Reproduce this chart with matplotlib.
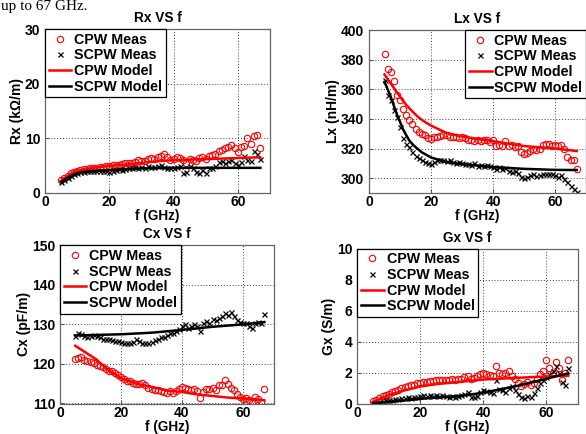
import matplotlib
matplotlib.use('Agg')
import matplotlib.pyplot as plt

plt.rcParams['font.family'] = ['Liberation Sans', 'DejaVu Sans']
plt.rcParams['font.weight'] = 'bold'
plt.rcParams['axes.labelweight'] = 'bold'
plt.rcParams['axes.titleweight'] = 'bold'

freq = [5, 6, 7, 8, 9, 10, 11, 12, 13, 14, 15, 16, 17, 18, 19, 20, 21, 22, 23, 24,
        25, 26, 27, 28, 29, 30, 31, 32, 33, 34, 35, 36, 37, 38, 39, 40, 41, 42, 43, 44,
        45, 46, 47, 48, 49, 50, 51, 52, 53, 54, 55, 56, 57, 58, 59, 60, 61, 62, 63, 64,
        65, 66, 67]

# ---- Rx (kOhm/m)
rx_cpw = [2.3, 2.8, 3.2, 3.6, 3.9, 4.1, 4.2, 4.3, 4.4, 4.5, 4.6, 4.6, 4.7, 4.8, 4.9, 5.0, 5.1, 5.1, 5.2, 5.3,
          5.4, 5.4, 5.5, 5.7, 6.0, 5.9, 5.8, 6.2, 6.4, 6.3, 6.6, 6.8, 7.1, 6.5, 6.0, 6.3, 6.5, 6.4, 6.0, 5.5,
          6.3, 6.1, 5.8, 6.4, 6.5, 6.3, 6.8, 7.0, 7.2, 7.6, 7.9, 8.2, 8.5, 8.8, 8.3, 7.5, 8.4, 8.6, 10.0, 9.0,
          10.4, 10.7, 8.2]
rx_scpw = [2.0, 2.4, 2.8, 3.1, 3.4, 3.6, 3.8, 3.9, 4.0, 4.0, 4.0, 4.1, 4.0, 4.1, 4.0, 3.9, 4.1, 4.2, 4.3, 4.2,
           4.4, 4.5, 4.6, 4.7, 4.6, 4.7, 4.5, 4.9, 4.8, 4.7, 5.0, 5.2, 4.8, 4.6, 4.6, 4.5, 4.8, 5.0, 3.6, 3.8,
           4.9, 4.5, 3.9, 3.6, 4.2, 3.7, 4.5, 4.6, 4.9, 5.6, 5.8, 5.5, 5.9, 6.0, 5.5, 5.1, 5.6, 6.8, 6.1, 5.8,
           7.7, 7.2, 6.3]
rx_mf_cpw = [5, 6, 7, 8, 9, 10, 12, 15, 20, 25, 30, 35, 40, 45, 50, 55, 60, 65, 67]
rx_mod_cpw = [2.2, 2.7, 3.1, 3.5, 3.8, 4.0, 4.3, 4.6, 4.95, 5.2, 5.5, 5.8, 6.0, 6.1, 6.2, 6.3, 6.4, 6.5, 6.5]
rx_mf_scpw = [5, 6, 7, 8, 9, 10, 12, 15, 20, 25, 30, 35, 40, 50, 60, 67]
rx_mod_scpw = [2.0, 2.4, 2.8, 3.1, 3.4, 3.6, 3.85, 4.0, 4.2, 4.35, 4.5, 4.55, 4.6, 4.6, 4.6, 4.6]

# ---- Lx (nH/m)
lx_cpw = [384, 373.6, 371.5, 365.5, 356.4, 352.6, 346.5, 342.4, 339, 336.3, 333.4, 331.2, 330, 329, 327.3, 326.6, 327.5, 328, 328.5, 329,
          329, 328, 327.5, 328, 327, 328, 327, 326, 325.5, 325, 325.5, 325, 326, 325.5, 324.5, 325.5, 322, 322.5, 321.5, 325,
          322, 322.5, 321, 321.5, 318, 316.5, 317, 318.5, 319.5, 319, 320, 322.5, 323, 323, 322, 322.5, 321.5, 322.5, 320, 314,
          312, 312, 306.5]
lx_scpw = [366, 356, 352.6, 345.8, 341.3, 334.5, 327, 323.3, 321, 317.6, 315.3, 313.8, 312, 310.8, 310.4, 309.7, 310.8, 312, 312.5, 312,
           311.5, 312, 311, 310.5, 311, 310, 309.5, 309.7, 309, 310, 308.5, 309, 308.5, 309, 308, 307.5, 306.5, 307.5, 306, 307,
           305, 304.5, 305, 303.5, 300.7, 300, 301, 302, 302.5, 301.5, 302, 303, 303, 302.5, 303, 302, 301, 302, 299.5, 297.3,
           295, 292.8, 290.5]
lx_mf_cpw = [5, 6, 7, 8, 9, 10, 12, 14, 16, 18, 20, 25, 30, 35, 40, 45, 50, 55, 60, 67]
lx_mod_cpw = [370, 367, 364, 361, 358, 355, 349.5, 345, 341, 338, 335.5, 330.5, 328.2, 326.5, 325, 323.3, 321.7, 320.8, 320, 318.3]
lx_mf_scpw = [5, 6, 7, 8, 9, 10, 11, 12, 13, 14, 15, 17, 20, 25, 30, 35, 40, 50, 60, 67]
lx_mod_scpw = [365, 360, 355, 349, 343, 338, 333, 329, 325.5, 323, 321, 317.5, 314, 310.8, 309.5, 308.5, 307.5, 306.3, 305.6, 305.5]

# ---- Cx (pF/m)
cx_cpw = [121.25, 121.4, 121.7, 121.1, 120.7, 120.4, 120.2, 119.75, 119.6, 119.2, 118.6, 118.3, 118.1, 117.75, 117.25, 116.8, 116.25, 115.8, 115.6, 115.2,
          115.0, 115.0, 115.2, 114.6, 113.9, 113.6, 113.3, 113.3, 113.1, 112.9, 112.75, 113.2, 112.75, 113.2, 113.75, 114.2, 114.0, 113.6, 113.3, 113.75,
          113.1, 111.4, 112.9, 113.6, 113.75, 113.9, 113.3, 114.75, 114.6, 115.9, 115.0, 113.9, 113.3, 112.5, 111.7, 111.25, 111.4, 110.8, 110.25, 111.7,
          111.1, 110.4, 113.75]
cx_scpw = [127.1, 127.75, 127.5, 127.1, 126.9, 127.1, 127.25, 127.1, 126.8, 126.4, 126.25, 126.4, 126.1, 125.8, 125.8, 125.6, 125.4, 125.2, 125.4, 125.6,
           126.25, 125.8, 125.4, 125.2, 125.25, 125.6, 126.1, 126.4, 126.7, 126.9, 127.25, 127.75, 127.9, 128.3, 128.9, 129.6, 130.0, 129.2, 129.6, 130.0,
           129.6, 128.3, 130.4, 130.8, 130.4, 131.4, 131.1, 131.7, 132.1, 132.9, 132.5, 133.1, 132.1, 131.1, 130.6, 130.25, 130.4, 129.6, 129.2, 130.4,
           130.6, 130.4, 132.75]
cx_mf_cpw = [5, 8, 10, 12, 15, 20, 25, 30, 35, 40, 45, 50, 55, 60, 65, 67]
cx_mod_cpw = [124.6, 123.1, 122.1, 121.1, 118.9, 116.4, 115.0, 114.2, 113.3, 112.9, 112.3, 111.9, 111.5, 111.25, 111.0, 110.8]
cx_mf_scpw = [5, 10, 20, 30, 40, 50, 60, 67]
cx_mod_scpw = [127.2, 127.3, 127.5, 127.9, 128.6, 129.4, 130.0, 130.6]

# ---- Gx (S/m)
gx_cpw = [0.15, 0.25, 0.36, 0.47, 0.53, 0.61, 0.72, 0.83, 0.89, 1.0, 1.04, 1.1, 1.17, 1.2, 1.3, 1.35, 1.4, 1.4, 1.45, 1.45,
          1.5, 1.5, 1.55, 1.5, 1.55, 1.6, 1.55, 1.6, 1.6, 1.7, 1.75, 1.6, 1.65, 1.8, 1.9, 1.95, 1.9, 1.85, 1.8, 2.45,
          2.0, 1.9, 2.0, 2.1, 1.75, 1.6, 1.3, 1.1, 1.25, 1.4, 1.2, 1.35, 1.6, 1.9, 2.1, 2.8, 2.3, 2.0, 2.7, 2.3,
          1.5, 2.0, 2.8]
gx_scpw = [0.04, 0.06, 0.1, 0.15, 0.2, 0.22, 0.25, 0.3, 0.32, 0.35, 0.38, 0.4, 0.38, 0.42, 0.45, 0.5, 0.55, 0.5, 0.55, 0.5,
           0.55, 0.5, 0.55, 0.5, 0.45, 0.5, 0.45, 0.5, 0.55, 0.6, 0.75, 0.4, 0.45, 0.5, 0.75, 0.85, 0.8, 0.75, 0.65, 1.5,
           0.95, 0.85, 0.75, 1.0, 1.15, 0.85, 0.6, 0.4, 0.35, 0.5, 0.45, 0.7, 1.0, 1.3, 1.5, 1.7, 1.9, 2.1, 2.4, 2.0,
           1.4, 1.2, 2.3]
gx_mf_cpw = [5, 10, 15, 20, 25, 30, 35, 40, 45, 50, 55, 60, 67]
gx_mod_cpw = [0.1, 0.55, 0.85, 1.1, 1.25, 1.35, 1.45, 1.55, 1.6, 1.65, 1.7, 1.75, 1.8]
gx_mf_scpw = [5, 10, 15, 20, 25, 30, 35, 40, 45, 50, 55, 60, 67]
gx_mod_scpw = [0.02, 0.1, 0.2, 0.3, 0.38, 0.45, 0.55, 0.7, 0.9, 1.1, 1.35, 1.6, 1.95]

labels = ['CPW Meas', 'SCPW Meas', 'CPW Model', 'SCPW Model']
x_ticks = [0, 20, 40, 60]

W, H = 586, 434
fig = plt.figure(figsize=(W / 100, H / 100), dpi=100)

FS = 10.0


def px_axes(left, right, top, bottom):
    return fig.add_axes([left / W, 1 - bottom / H, (right - left) / W, (bottom - top) / H])


def panel(ax, meas_c, meas_s, mfc, modc, mfs, mods, ylim, yticks, ylabel, title, loc):
    ax.plot(freq, meas_c, linestyle='none', marker='o', ms=4.6, mfc='none', mec='red', mew=0.8, label=labels[0])
    ax.plot(freq, meas_s, linestyle='none', marker='x', ms=3.6, color='black', mew=0.9, label=labels[1])
    ax.plot(mfc, modc, color='red', lw=1.8, label=labels[2])
    ax.plot(mfs, mods, color='black', lw=1.8, label=labels[3])
    ax.set_xlim(0, 70)
    ax.set_ylim(*ylim)
    ax.set_xticks(x_ticks)
    ax.set_yticks(yticks)
    ax.grid(True, color='#404040', linestyle=(0, (1, 2)), linewidth=0.7)
    ax.set_axisbelow(True)
    ax.tick_params(direction='in', length=3, labelsize=FS, color='#555555')
    ax.tick_params(axis='x', pad=1.5)
    ax.tick_params(axis='y', pad=3.5)
    for s in ax.spines.values():
        s.set_color('#666666')
        s.set_linewidth(0.9)
    ax.set_xlabel('f (GHz)', fontsize=9.8, labelpad=0.0)
    ax.set_ylabel(ylabel, fontsize=FS, labelpad=0.5)
    ax.set_title(title, fontsize=9.8, pad=5)
    leg = ax.legend(loc=loc, fontsize=10.3, frameon=True, fancybox=False, borderaxespad=0,
                    handlelength=1.6, handletextpad=0.2, labelspacing=0.12, borderpad=0.25,
                    framealpha=1)
    leg.get_frame().set_edgecolor('black')
    leg.get_frame().set_linewidth(0.9)


ax1 = px_axes(45, 270, 29, 193)
panel(ax1, rx_cpw, rx_scpw, rx_mf_cpw, rx_mod_cpw, rx_mf_scpw, rx_mod_scpw,
      (0, 30), [0, 10, 20, 30], 'Rx (k\u03a9/m)', 'Rx VS f', 'upper left')

ax2 = px_axes(369, 586, 30, 193)
panel(ax2, lx_cpw, lx_scpw, lx_mf_cpw, lx_mod_cpw, lx_mf_scpw, lx_mod_scpw,
      (290, 400), [300, 320, 340, 360, 380, 400], 'Lx (nH/m)', 'Lx VS f', 'upper right')

ax3 = px_axes(60, 273.5, 245.3, 403.5)
panel(ax3, cx_cpw, cx_scpw, cx_mf_cpw, cx_mod_cpw, cx_mf_scpw, cx_mod_scpw,
      (110, 150), [110, 120, 130, 140, 150], 'Cx (pF/m)', 'Cx VS f', 'upper left')

ax4 = px_axes(357.3, 577.8, 248.7, 403.5)
panel(ax4, gx_cpw, gx_scpw, gx_mf_cpw, gx_mod_cpw, gx_mf_scpw, gx_mod_scpw,
      (0, 10), [0, 2, 4, 6, 8, 10], 'Gx (S/m)', 'Gx VS f', 'upper left')

fig.text(1 / W, 1 - 10 / H, 'up to 67 GHz.', family='Liberation Serif', fontweight='normal',
         fontsize=11, va='baseline', ha='left')

fig.savefig('out.png', dpi=100)
